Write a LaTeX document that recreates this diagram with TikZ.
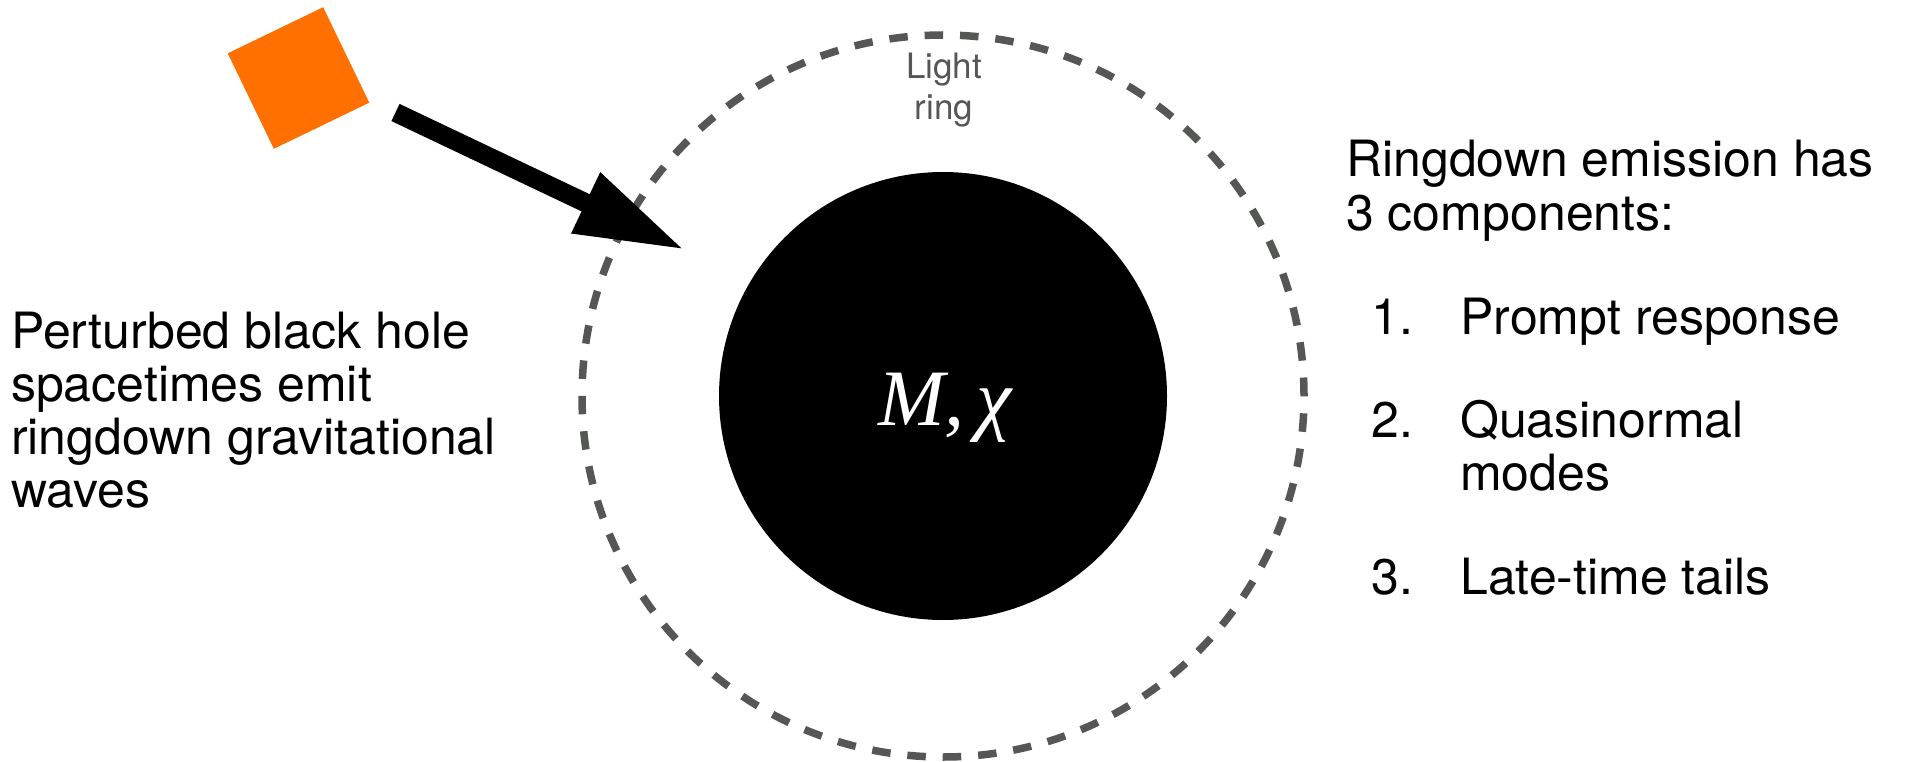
\documentclass[tikz,border=0pt]{standalone}
\usepackage{fontspec}
\setmainfont{TeX Gyre Heros}
\newfontfamily\symserif{Liberation Serif}
\usetikzlibrary{arrows.meta}
\definecolor{cubeorange}{RGB}{255,112,0}
\definecolor{ringgray}{RGB}{85,87,85}
\begin{document}
\begin{tikzpicture}[x=1pt,y=-1pt,
  bigtext/.style={font=\fontsize{50}{53}\selectfont, anchor=base west, inner sep=0pt},
  ringlabel/.style={font=\fontsize{35}{41}\selectfont, text=ringgray, anchor=base, inner sep=0pt},
  lightring/.style={circle, draw=ringgray, line width=7.5pt, minimum size=722pt, inner sep=0pt,
                    dash pattern=on 18.5pt off 16.94pt},
  hole/.style={circle, fill=black, minimum size=448pt, inner sep=0pt},
  cubestyle/.style={fill=cubeorange, minimum size=106pt, inner sep=0pt, rotate=25.8},
  kick/.style={line width=19pt, -{Triangle[length=110pt, width=62pt]}}
]
\useasboundingbox (0,0) rectangle (1913,762);
\fill[white] (0,0) rectangle (1913,762);

% light ring and black hole
\node[lightring] (ring) at (943,396) {};
\node[hole] (bh) at (943,396) {};
\node[text=white, font=\symserif\itshape\fontsize{80}{84}\selectfont, anchor=base, inner sep=0pt] (mchi) at (945,425) {M,\kern12ptχ};

\node[ringlabel] (lr1) at (944,79) {Light};
\node[ringlabel] (lr2) at (944,120) {ring};

% perturber and arrow
\node[cubestyle] (cube) at (298.5,78) {};
\coordinate (atail) at (395.5,112.5);
\coordinate (atip) at (685,250);
\draw[kick] (atail) -- (atip);

% left text
\node[bigtext] (l1) at (11,348) {Perturbed black hole};
\node[bigtext] (l2) at (11,401) {spacetimes emit};
\node[bigtext] (l3) at (11,454) {ringdown gravitational};
\node[bigtext] (l4) at (11,507) {waves};

% right text
\node[bigtext] (r1) at (1346,177) {Ringdown emission has};
\node[bigtext] (r2) at (1346,230) {3 components:};
\node[bigtext] (n1) at (1371,334) {1.};
\node[bigtext] (i1) at (1460,334) {Prompt response};
\node[bigtext] (n2) at (1371,437) {2.};
\node[bigtext] (i2) at (1460,437) {Quasinormal};
\node[bigtext] (i2b) at (1460,490) {modes};
\node[bigtext] (n3) at (1371,594) {3.};
\node[bigtext] (i3) at (1460,594) {Late-time tails};
\end{tikzpicture}
\end{document}
